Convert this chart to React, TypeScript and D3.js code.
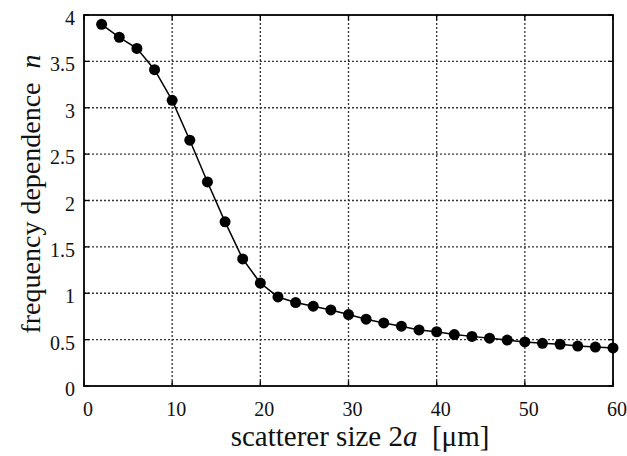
import React from "react";
import * as d3 from "d3";

const xValues = [2, 4, 6, 8, 10, 12, 14, 16, 18, 20, 22, 24, 26, 28, 30, 32, 34, 36, 38, 40, 42, 44, 46, 48, 50, 52, 54, 56, 58, 60];
const nValues = [3.9, 3.76, 3.64, 3.41, 3.08, 2.65, 2.2, 1.77, 1.37, 1.11, 0.96, 0.9, 0.86, 0.82, 0.77, 0.72, 0.68, 0.645, 0.605, 0.585, 0.555, 0.535, 0.515, 0.495, 0.475, 0.46, 0.45, 0.43, 0.42, 0.41];
const xTicks = [0, 10, 20, 30, 40, 50, 60];
const yTicks = [0, 0.5, 1, 1.5, 2, 2.5, 3, 3.5, 4];

export default function App() {
  const W = 627, H = 456;
  const left = 84, right = 613, top = 15, bottom = 386;
  const x = d3.scaleLinear().domain([0, 60]).range([left, right]);
  const y = d3.scaleLinear().domain([0, 4]).range([bottom, top]);
  const line = d3.line<number>().x((_, i) => x(xValues[i])).y((d) => y(d));
  const font = "Liberation Serif, Times New Roman, Times, DejaVu Serif, serif";
  return (
    <svg width={W} height={H} style={{ position: "absolute", left: 0, top: 0, background: "#fff", fontFamily: font }}>
      <rect x={0} y={0} width={W} height={H} fill="#fff" />
      {xTicks.slice(1, -1).map((t) => (
        <line key={"gx" + t} x1={x(t)} x2={x(t)} y1={top} y2={bottom} stroke="#333" strokeWidth={1.3} strokeDasharray="2,2" />
      ))}
      {yTicks.slice(1, -1).map((t) => (
        <line key={"gy" + t} x1={left} x2={right} y1={y(t)} y2={y(t)} stroke="#333" strokeWidth={1.3} strokeDasharray="2,2" />
      ))}
      {xTicks.map((t) => (
        <g key={"tx" + t}>
          <line x1={x(t)} x2={x(t)} y1={bottom} y2={bottom - 5} stroke="#000" strokeWidth={1.3} />
          <line x1={x(t)} x2={x(t)} y1={top} y2={top + 5} stroke="#000" strokeWidth={1.3} />
          <text x={x(t) + 4} y={416} textAnchor="middle" style={{ fontFamily: font }} fontSize={20} fill="#111">{t}</text>
        </g>
      ))}
      {yTicks.map((t) => (
        <g key={"ty" + t}>
          <line x1={left} x2={left + 5} y1={y(t)} y2={y(t)} stroke="#000" strokeWidth={1.3} />
          <line x1={right} x2={right - 5} y1={y(t)} y2={y(t)} stroke="#000" strokeWidth={1.3} />
          <text x={75} y={y(t) + 10} textAnchor="end" style={{ fontFamily: font }} fontSize={20} fill="#111">{t}</text>
        </g>
      ))}
      <rect x={left} y={top} width={right - left} height={bottom - top} fill="none" stroke="#000" strokeWidth={1.8} />
      <path d={line(nValues) || ""} fill="none" stroke="#000" strokeWidth={1.5} />
      {nValues.map((v, i) => (
        <circle key={i} cx={x(xValues[i])} cy={y(v)} r={5.5} fill="#000" />
      ))}
      <text x={360} y={446} textAnchor="middle" style={{ fontFamily: font, whiteSpace: "pre" }} fontSize={29} fill="#111">
        {"scatterer size 2"}<tspan fontStyle="italic">a</tspan>{"  [μm]"}
      </text>
      <text transform={`translate(40, 194) rotate(-90)`} textAnchor="middle" style={{ fontFamily: font, whiteSpace: "pre" }} fontSize={28} fill="#111">
        {"frequency dependence  "}<tspan fontStyle="italic">n</tspan>
      </text>
    </svg>
  );
}
